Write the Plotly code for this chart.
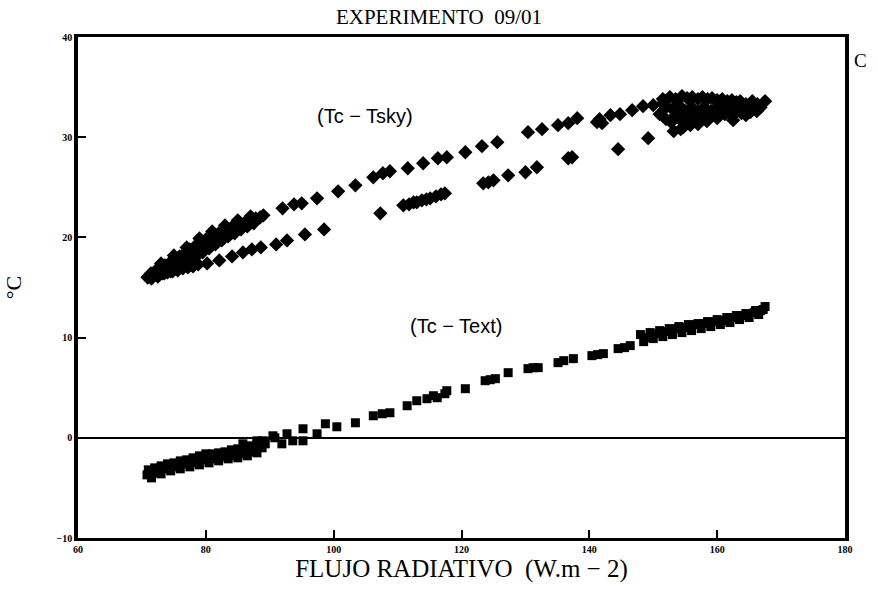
import plotly.graph_objects as go

# ---- Data: (Tc - Tsky), diamonds ----
tsky_x = [
    # forward dense band
    71.0, 71.4, 71.8, 72.2, 72.5, 72.9, 73.3, 73.6, 74.0, 74.4, 74.8, 75.1, 75.5, 75.9, 76.3, 76.7,
    77.1, 77.5, 77.9, 78.3, 78.7, 79.2, 79.6, 80.0, 80.5, 81.0, 81.5, 82.0, 82.5, 83.0, 83.6, 84.2,
    84.8, 85.4, 86.0, 86.6, 87.2, 87.8, 88.5, 89.0,
    71.5, 72.5, 73.5, 74.5, 75.5, 76.5, 77.5, 78.5, 79.5, 80.5, 81.5, 82.5, 83.5, 84.5, 85.5, 86.5,
    87.5,
    73.0, 75.0, 77.0, 79.0, 81.0, 83.0, 85.0, 87.0,
    # forward discrete
    92.0, 93.8, 95.0, 97.4, 100.7, 103.4, 106.2, 107.7, 108.8, 111.6, 114.0, 116.3, 117.7, 120.6,
    123.2, 125.6, 130.4, 132.6, 135.1, 136.7, 138.1, 141.2, 141.6, 142.0, 143.3, 144.8, 146.7, 148.4,
    150.0, 151.5,
    # upper-right cluster
    152.6, 153.5, 154.5, 155.3, 156.1, 157.0, 157.7, 158.5, 159.2, 160.0, 160.8, 161.6, 162.3, 163.0,
    163.6, 164.5, 165.4, 166.3, 167.5,
    152.0, 153.0, 154.0, 155.0, 156.0, 157.0, 158.0, 159.0, 160.0, 161.0, 162.0, 163.0, 164.0, 165.0,
    166.0,
    152.8, 153.2, 154.0, 154.7, 155.5, 156.2, 157.4, 158.4, 159.2, 160.0, 161.2, 162.5, 163.8, 165.2,
    151.0, 152.0, 153.5, 155.0, 156.5, 158.0, 159.5, 161.5, 163.5, 165.5, 166.8, 154.3, 155.8, 157.0,
    151.5, 162.5, 164.5, 166.2,
    # return discrete
    149.2, 144.5, 137.3, 136.7, 131.8, 130.0, 127.3, 125.0, 124.2, 123.4, 117.4, 116.8, 116.0, 115.1,
    114.5, 113.8, 113.0, 112.5, 111.8, 110.9, 107.3, 98.5, 95.5, 92.7, 91.0, 88.6, 87.2, 85.8, 84.1,
    82.1, 80.2, 78.8,
    # return dense
    78.0, 77.2, 76.4, 75.6, 74.8, 74.0, 73.2, 72.4, 71.6, 70.9,
]
tsky_y = [
    16.1, 16.4, 16.3, 16.7, 16.5, 16.9, 16.8, 17.2, 17.0, 17.5, 17.3, 17.8, 17.6, 18.1, 17.9, 18.4,
    18.3, 18.8, 18.6, 19.1, 19.0, 19.4, 19.3, 19.8, 19.6, 20.1, 20.0, 20.4, 20.4, 20.8, 20.7, 21.1,
    21.1, 21.4, 21.4, 21.7, 21.7, 21.9, 22.0, 22.2,
    15.9, 16.1, 16.4, 16.6, 16.9, 17.3, 17.7, 18.1, 18.5, 18.9, 19.3, 19.7, 20.1, 20.4, 20.8, 21.1,
    21.4,
    17.4, 18.2, 19.0, 19.9, 20.6, 21.2, 21.7, 22.1,
    22.9, 23.3, 23.4, 23.9, 24.6, 25.2, 26.0, 26.4, 26.6, 26.9, 27.4, 27.9, 28.0, 28.5,
    29.1, 29.5, 30.5, 30.8, 31.2, 31.4, 31.9, 31.5, 31.8, 31.4, 32.2, 32.3, 32.7, 33.1,
    33.2, 33.4,
    34.0, 33.8, 34.1, 33.9, 34.0, 33.8, 34.0, 33.8, 33.9, 33.7, 33.8, 33.6, 33.7, 33.5,
    33.6, 33.3, 33.2, 33.3, 33.6,
    33.0, 32.8, 33.2, 32.6, 33.0, 32.5, 33.0, 32.6, 33.0, 32.6, 32.9, 32.7, 32.9, 32.8,
    32.9,
    31.5, 30.6, 31.9, 31.0, 32.0, 31.5, 32.0, 31.6, 32.2, 31.9, 32.3, 32.2, 32.4, 32.5,
    32.3, 31.8, 32.2, 31.8, 32.3, 32.3, 32.6, 33.2, 33.1, 33.6, 33.0, 30.8, 31.2, 31.3,
    33.8, 31.7, 32.2, 32.6,
    29.9, 28.8, 28.0, 27.9, 27.0, 26.5, 26.2, 25.7, 25.5, 25.4, 24.4, 24.3, 24.1, 23.9,
    23.8, 23.7, 23.5, 23.5, 23.3, 23.2, 22.4, 20.8, 20.3, 19.7, 19.3, 19.0, 18.8, 18.5, 18.1,
    17.7, 17.4, 17.3,
    17.1, 17.0, 16.9, 16.7, 16.6, 16.5, 16.4, 16.2, 16.1, 16.0,
]

# ---- Data: (Tc - Text), squares ----
text_x = [
    # lower-left dense band
    71.0, 72.0, 73.0, 74.0, 75.0, 76.0, 77.0, 78.0, 79.0, 80.0, 81.0, 82.0, 83.0, 84.0, 85.0, 86.0,
    87.0, 88.0, 89.0,
    70.8, 71.8, 72.8, 73.8, 74.8, 75.8, 76.8, 77.8, 78.8, 79.8, 80.8, 81.8, 82.8, 83.8, 84.8, 85.8,
    86.8, 87.8, 88.8,
    71.3, 72.3, 73.3, 74.3, 75.3, 76.3, 77.3, 78.3, 79.3, 80.3, 81.3, 82.3, 83.3, 84.3, 85.3, 86.3,
    87.3, 88.3, 89.3,
    71.5, 73.0, 74.5, 76.0, 77.5, 79.0, 80.5, 82.0, 83.5, 85.0, 86.5, 88.0,
    # discrete middle
    85.8, 88.0, 90.5, 90.8, 91.9, 92.7, 93.6, 95.2, 95.2, 97.4, 98.7, 100.5, 103.4, 106.2, 107.6,
    108.8, 111.5, 113.0, 114.6, 115.6, 116.2, 117.4, 117.7, 120.6, 123.7, 124.5, 125.3, 127.3, 130.4,
    131.2, 132.0, 135.1, 136.0, 137.5, 140.4, 141.3, 142.2, 144.5, 145.5, 146.4,
    # upper-right dense band
    148.0, 149.5, 151.0, 152.5, 154.0, 155.5, 157.0, 158.5, 160.0, 161.5, 163.0, 164.5, 166.0, 167.5,
    148.5, 150.0, 151.5, 153.0, 154.5, 156.0, 157.5, 159.0, 160.5, 162.0, 163.5, 165.0, 166.5,
    148.8, 149.8, 150.8, 151.8, 152.8, 153.8, 154.8, 155.8, 156.8, 157.8, 158.8, 159.8, 160.8, 161.8,
    162.8, 163.8, 164.8, 165.8, 166.8, 167.2,
]
text_y = [
    -3.2, -3.0, -2.8, -2.6, -2.5, -2.3, -2.2, -2.0, -1.8, -1.6, -1.6, -1.5, -1.4, -1.2, -1.1, -1.0,
    -0.8, -0.5, -0.3,
    -3.7, -3.5, -3.3, -3.1, -2.9, -2.8, -2.6, -2.5, -2.3, -2.2, -2.1, -2.0, -1.9, -1.8, -1.7, -1.6,
    -1.4, -1.2, -1.0,
    -3.5, -3.2, -3.0, -2.8, -2.7, -2.5, -2.4, -2.2, -2.0, -1.9, -1.8, -1.7, -1.6, -1.5, -1.4, -1.2,
    -1.0, -0.8, -0.6,
    -4.0, -3.6, -3.3, -3.1, -2.9, -2.7, -2.5, -2.3, -2.1, -2.0, -1.8, -1.5,
    -0.6, -0.3, 0.2, 0.0, -0.6, 0.4, -0.3, 0.9, -0.3, 0.4, 1.4, 1.1, 1.5, 2.2, 2.4,
    2.5, 3.2, 3.7, 3.9, 4.2, 4.0, 4.4, 4.7, 4.9, 5.7, 5.8, 5.9, 6.5, 6.9,
    7.0, 7.0, 7.5, 7.7, 7.9, 8.2, 8.3, 8.4, 8.9, 9.0, 9.2,
    10.3, 10.5, 10.7, 10.9, 11.1, 11.3, 11.4, 11.6, 11.8, 12.0, 12.2, 12.4, 12.7, 13.1,
    9.6, 9.9, 10.1, 10.3, 10.5, 10.7, 10.9, 11.1, 11.3, 11.5, 11.8, 12.0, 12.3,
    10.0, 10.2, 10.4, 10.6, 10.7, 10.9, 11.0, 11.1, 11.3, 11.4, 11.5, 11.6, 11.7, 11.9,
    12.0, 12.2, 12.3, 12.5, 12.7, 12.8,
]

x_ticks = [60, 80, 100, 120, 140, 160, 180]
y_ticks = [-10, 0, 10, 20, 30, 40]
y_tick_text = ["−10", "0", "10", "20", "30", "40"]

serif = "Liberation Serif, Times New Roman, serif"
sans = "Liberation Sans, Arial, sans-serif"

fig = go.Figure()
fig.add_trace(go.Scatter(
    x=tsky_x, y=tsky_y, mode="markers", name="(Tc − Tsky)",
    marker=dict(symbol="diamond", size=11, color="black", line=dict(width=0)),
))
fig.add_trace(go.Scatter(
    x=text_x, y=text_y, mode="markers", name="(Tc − Text)",
    marker=dict(symbol="square", size=9, color="black", line=dict(width=0)),
))

fig.update_layout(
    width=878, height=589,
    margin=dict(l=78, r=33, t=37, b=51),
    paper_bgcolor="white", plot_bgcolor="white",
    showlegend=False,
    title=dict(text="EXPERIMENTO  09/01", x=0.5, xanchor="center", y=0.971, yanchor="middle",
               font=dict(family=serif, size=21, color="black")),
    xaxis=dict(
        range=[60, 180], tickvals=x_ticks, ticktext=[str(v) for v in x_ticks],
        showgrid=False, zeroline=False, showline=True, linecolor="black", linewidth=3, mirror=True,
        ticks="inside", ticklen=8, tickwidth=1.5, tickcolor="black",
        tickfont=dict(family=serif, size=10, color="black", weight="bold"),
        title=dict(text="FLUJO RADIATIVO  (W.m − 2)", standoff=2,
                   font=dict(family=serif, size=25, color="black")),
    ),
    yaxis=dict(
        range=[-10, 40], tickvals=y_ticks, ticktext=y_tick_text,
        showgrid=False, zeroline=True, zerolinecolor="black", zerolinewidth=1.5,
        showline=True, linecolor="black", linewidth=3.5, mirror=True,
        ticks="inside", ticklen=8, tickwidth=1.5, tickcolor="black",
        tickfont=dict(family=serif, size=10, color="black", weight="bold"),
        title=dict(text="°C", standoff=30, font=dict(family=serif, size=22, color="black")),
    ),
    annotations=[
        dict(x=104.9, y=32.1, xref="x", yref="y", text="(Tc − Tsky)", showarrow=False,
             font=dict(family=sans, size=20, color="black")),
        dict(x=119.2, y=11.2, xref="x", yref="y", text="(Tc − Text)", showarrow=False,
             font=dict(family=sans, size=20, color="black")),
        dict(x=1.0, y=0.954, xref="paper", yref="paper", xanchor="left", yanchor="middle",
             xshift=7, text="C", showarrow=False,
             font=dict(family=serif, size=19, color="black")),
    ],
)

fig.write_html("out.html")
